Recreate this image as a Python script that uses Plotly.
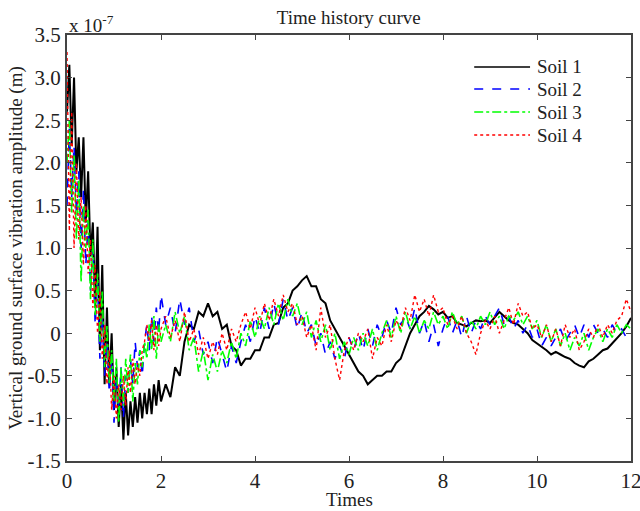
import numpy as np
import plotly.graph_objects as go

# time grid: 0..2 step 0.05, then 2.1..12 step 0.1
t_early = np.round(np.arange(0, 2.0001, 0.05), 2).tolist()
t_late = np.round(np.arange(2.1, 12.0001, 0.1), 2).tolist()
times = t_early + t_late

# values in units of 1e-7 m
soil1_early = [2.6, 3.15, 2.2, 3.0, 1.9, 2.3, 1.6, 2.3, 1.3, 1.9,
               0.9, 1.3, 0.3, 1.25, -0.2, 0.8, -0.6, 0.3, -0.6, 0.0,
               -0.9, -0.4, -1.1, -0.6, -1.25, -0.7, -1.2, -0.8, -1.1, -0.75,
               -1.05, -0.7, -1.0, -0.7, -0.95, -0.65, -0.95, -0.6, -0.85, -0.55,
               -0.8]
soil1_late = [-0.6, -0.75, -0.4, -0.5, -0.1, 0.1, 0.05, 0.25, 0.2, 0.35,
              0.2, 0.25, 0.05, 0.1, -0.15, -0.2, -0.38, -0.3, -0.3, -0.2,
              -0.2, -0.05, -0.05, 0.1, 0.12, 0.3, 0.35, 0.5, 0.55, 0.62,
              0.67, 0.55, 0.55, 0.4, 0.35, 0.15, 0.05, -0.05, -0.15, -0.25,
              -0.35, -0.45, -0.5, -0.6, -0.55, -0.5, -0.5, -0.45, -0.45, -0.35,
              -0.3, -0.15, 0.0, 0.1, 0.2, 0.25, 0.32, 0.28, 0.22, 0.25,
              0.18, 0.2, 0.12, 0.1, 0.08, 0.12, 0.15, 0.14, 0.15, 0.12,
              0.18, 0.25, 0.2, 0.15, 0.12, 0.1, 0.05, 0.0, -0.08, -0.12,
              -0.15, -0.2, -0.25, -0.22, -0.25, -0.28, -0.3, -0.35, -0.38, -0.4,
              -0.33, -0.3, -0.25, -0.2, -0.18, -0.12, -0.05, 0.0, 0.08, 0.18]

soil2_early = [1.5, 2.4, 1.6, 2.2, 1.4, 1.9, 1.0, 1.7, 0.8, 1.3,
               0.5, 1.0, 0.1, 0.6, -0.3, 0.2, -0.5, -0.1, -0.7, -0.3,
               -1.05, -0.5, -0.9, -0.4, -1.0, -0.5, -0.7, -0.3, -0.6, -0.1,
               -0.4, -0.2, -0.5, -0.1, 0.1, -0.2, 0.2, -0.1, 0.3, 0.0,
               0.45]
soil2_late = [0.1, 0.3, 0.0, 0.4, 0.1, 0.3, -0.1, 0.05, -0.25, -0.1,
              -0.35, -0.05, -0.25, -0.45, -0.15, -0.35, -0.1, 0.1, -0.1, 0.2,
              0.0, 0.3, 0.05, 0.35, 0.1, 0.4, 0.15, 0.3, 0.05, 0.25,
              0.0, 0.1, -0.15, 0.0, -0.25, -0.1, -0.3, -0.15, -0.3, -0.05,
              -0.2, 0.0, -0.2, 0.05, -0.15, 0.1, -0.05, 0.15, 0.0, 0.3,
              0.1, 0.2, 0.05, 0.3, 0.0, 0.15, -0.1, 0.1, -0.15, 0.05,
              0.2, 0.0, 0.15, -0.05, 0.2, 0.0, 0.15, 0.05, 0.2, 0.1,
              0.2, 0.3, 0.1, 0.2, 0.05, 0.15, 0.0, 0.1, -0.05, 0.05,
              -0.15, -0.05, -0.15, -0.05, 0.05, -0.1, 0.0, 0.1, -0.05, 0.1,
              -0.05, 0.1, 0.0, 0.05, -0.05, 0.1, 0.0, 0.05, -0.05, 0.0]

soil3_early = [2.0, 2.5, 1.4, 2.1, 1.1, 1.8, 0.6, 1.5, 1.0, 1.45,
               0.4, 1.1, 0.2, 0.7, -0.1, 0.5, -0.4, 0.1, -0.6, -0.2,
               -0.8, -0.3, -1.05, -0.4, -0.85, -0.3, -0.7, -0.25, -0.8, -0.35,
               -0.6, -0.2, -0.4, -0.1, -0.3, 0.1, -0.2, 0.2, -0.3, 0.1,
               -0.1]
soil3_late = [0.1, -0.1, 0.25, 0.0, 0.2, -0.2, -0.05, -0.45, -0.2, -0.55,
              -0.25, -0.45, -0.2, -0.35, -0.1, -0.3, 0.0, -0.15, 0.15, -0.05,
              0.2, 0.05, 0.3, 0.1, 0.35, 0.15, 0.4, 0.2, 0.35, 0.1,
              0.25, -0.05, 0.15, -0.1, 0.1, -0.2, 0.0, -0.3, -0.1, -0.25,
              -0.05, -0.2, 0.0, -0.15, 0.05, -0.2, 0.0, 0.15, -0.05, 0.2,
              0.0, 0.25, 0.05, 0.2, 0.0, 0.15, 0.05, 0.25, 0.1, 0.2,
              0.05, 0.25, 0.1, 0.2, 0.0, 0.15, 0.05, 0.2, 0.1, 0.25,
              0.1, 0.2, 0.05, 0.2, 0.15, 0.25, 0.1, 0.2, 0.05, 0.15,
              -0.05, 0.1, -0.1, 0.05, -0.15, 0.0, -0.2, -0.05, -0.15, 0.0,
              -0.2, -0.05, 0.05, -0.1, 0.05, -0.05, 0.1, 0.0, 0.1, 0.05]

soil4_early = [3.3, 1.2, 2.6, 1.0, 2.0, 1.1, 1.6, 0.8, 1.5, 0.7,
               1.1, 0.3, 0.8, 0.0, 0.5, -0.3, 0.1, -0.6, -0.2, -0.9,
               -0.5, -1.0, -0.6, -0.9, -0.5, -0.85, -0.4, -0.7, -0.3, -0.6,
               -0.35, -0.5, -0.2, -0.1, 0.1, -0.1, 0.15, -0.2, 0.1, -0.15,
               0.05]
soil4_late = [0.2, -0.05, 0.15, -0.1, 0.25, -0.1, 0.05, -0.25, -0.05, -0.3,
              -0.1, -0.25, 0.0, -0.2, 0.05, -0.1, 0.1, 0.25, 0.05, 0.3,
              0.1, 0.35, 0.15, 0.4, 0.2, 0.45, 0.25, 0.35, 0.1, 0.2,
              -0.05, 0.1, -0.2, 0.3, -0.05, 0.1, -0.3, -0.55, -0.2, -0.05,
              -0.2, 0.0, -0.1, 0.05, -0.3, -0.05, -0.15, 0.1, -0.1, 0.15,
              0.05, 0.3, 0.15, 0.45, 0.25, 0.4, 0.2, 0.45, 0.25, 0.3,
              0.1, 0.2, 0.05, 0.2, 0.0, -0.1, -0.25, 0.0, 0.15, 0.05,
              0.2, 0.0, 0.15, 0.3, 0.1, 0.35, 0.2, 0.25, 0.05, 0.1,
              -0.05, 0.1, -0.1, 0.05, -0.15, 0.1, -0.05, 0.05, -0.2, -0.1,
              0.05, -0.05, 0.1, -0.05, 0.1, 0.0, 0.15, 0.2, 0.4, 0.25]

series_names = ["Soil 1", "Soil 2", "Soil 3", "Soil 4"]
series_values = [soil1_early + soil1_late, soil2_early + soil2_late,
                 soil3_early + soil3_late, soil4_early + soil4_late]
series_colors = ["#000000", "#0000FF", "#00FF00", "#FF0000"]
series_dash = ["solid", "dash", "dashdot", "dot"]
series_width = [2.0, 1.6, 1.6, 1.4]

x_ticks = [0, 2, 4, 6, 8, 10, 12]
y_ticks = [-1.5, -1.0, -0.5, 0, 0.5, 1.0, 1.5, 2.0, 2.5, 3.0, 3.5]
y_tick_labels = ["-1.5", "-1.0", "-0.5", "0", "0.5", "1.0", "1.5", "2.0", "2.5", "3.0", "3.5"]

FONT = "Liberation Serif, Times New Roman, serif"
TXT = "#222"

fig = go.Figure()
for name, vals, col, dash, w in zip(series_names, series_values, series_colors, series_dash, series_width):
    fig.add_trace(go.Scatter(x=times, y=vals, mode="lines", name=name,
                             line=dict(color=col, dash=dash, width=w)))

fig.update_layout(
    width=640, height=511,
    margin=dict(l=67, r=9, t=35, b=50),
    paper_bgcolor="white", plot_bgcolor="white",
    font=dict(family=FONT, size=19, color=TXT),
    title=dict(text="Time history curve", x=0.545, xanchor="center",
               y=0.967, yanchor="middle", font=dict(size=19, family=FONT, color=TXT)),
    showlegend=False,
)
fig.update_xaxes(range=[0, 12], tickvals=x_ticks, ticks="inside", ticklen=5,
                 tickcolor="#444", showline=True, linecolor="#444", linewidth=2,
                 mirror="ticks", showgrid=False, zeroline=False, automargin=False,
                 ticklabeloverflow="allow",
                 tickfont=dict(size=21, family=FONT, color=TXT))
fig.update_yaxes(range=[-1.5, 3.5], tickvals=y_ticks, ticktext=y_tick_labels,
                 ticks="inside", ticklen=5, tickcolor="#444", showline=True,
                 linecolor="#444", linewidth=2, mirror="ticks", showgrid=False,
                 zeroline=False, automargin=False, ticklabeloverflow="allow",
                 tickfont=dict(size=21, family=FONT, color=TXT),
                 title=dict(text="Vertical ground surface vibration amplitude (m)", standoff=0,
                            font=dict(size=19, family=FONT, color=TXT)))
fig.add_annotation(xref="paper", yref="paper", x=0.5, y=-0.09, xanchor="center", yanchor="middle",
                   text="Times", showarrow=False, font=dict(size=19, family=FONT, color=TXT))
fig.add_annotation(xref="paper", yref="paper", x=0.0, y=1.0, xanchor="left", yanchor="bottom",
                   text="x 10<sup>-7</sup>", showarrow=False, yshift=-3,
                   font=dict(size=19, family=FONT, color=TXT))

# legend drawn as line samples + labels (paper coordinates)
legend_rows_y = [0.925, 0.873, 0.819, 0.765]
for name, col, dash, ly in zip(series_names, series_colors, series_dash, legend_rows_y):
    fig.add_shape(type="line", xref="paper", yref="paper", x0=0.722, x1=0.821, y0=ly, y1=ly,
                  line=dict(color=col, dash=dash, width=1.5))
    fig.add_annotation(xref="paper", yref="paper", x=0.83, y=ly, xanchor="left", yanchor="middle",
                       text=name, showarrow=False, font=dict(size=19, family=FONT, color=TXT))

fig.write_html("out.html", config={"displayModeBar": False},
               post_script="document.body.style.margin='0';"
                           "document.documentElement.style.overflow='hidden';")
